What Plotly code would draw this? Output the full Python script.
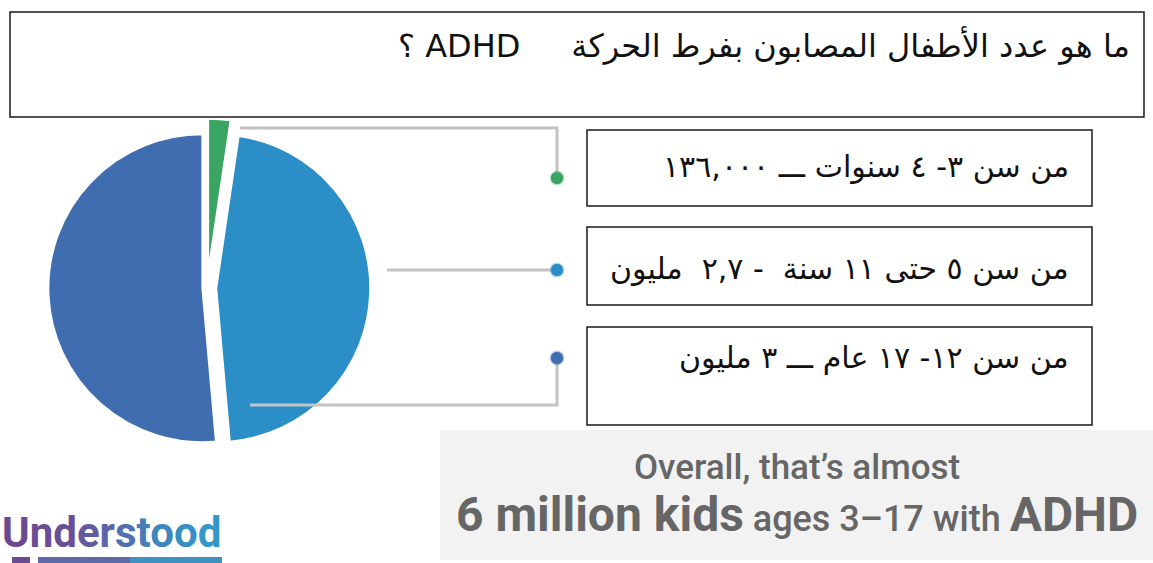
import plotly.graph_objects as go

# ---- data ----
age_groups = ["3-4", "5-11", "12-17"]
kids_count = [136000, 2700000, 3000000]
slice_colors = ["#3aa462", "#2b8ec6", "#3f6daf"]
slice_pull = [0.1, 0.06, 0.03]

title_text = "ما هو عدد الأطفال المصابون بفرط الحركة     ADHD ؟"
box_texts = [
    "من سن ٣- ٤ سنوات ـــ ١٣٦,٠٠٠",
    "من سن ٥ حتى ١١ سنة  - ٢,٧  مليون",
    "من سن ١٢- ١٧ عام ـــ ٣ مليون",
]

W, H = 1153, 563
RLE, PDF = "\u202b", "\u202c"

fig = go.Figure()

# pie (pixel geometry -> paper domain)
pcx, pcy, pr = 207, 288, 154
maxpull = max(slice_pull)
half = pr * (1 + maxpull)
fig.add_trace(go.Pie(
    labels=age_groups, values=kids_count, sort=False, direction="clockwise",
    rotation=0, pull=slice_pull, textinfo="none", hoverinfo="label+value",
    marker=dict(colors=slice_colors, line=dict(color="white", width=2)),
    domain=dict(x=[(pcx - half) / W, (pcx + half) / W],
                y=[1 - (pcy + half) / H, 1 - (pcy - half) / H]),
    showlegend=False,
))

# leader-line end dots (cartesian trace; also defines the pixel-space axes)
dot_x = [557, 557, 557]
dot_y = [178, 270, 358]
fig.add_trace(go.Scatter(
    x=dot_x, y=dot_y, mode="markers", showlegend=False, hoverinfo="skip",
    marker=dict(size=12, color=slice_colors),
))

shapes = []
line_col = "#c3c3c3"
# leader lines
shapes += [
    dict(type="path", path="M 240 128 L 557 128 L 557 178", line=dict(color=line_col, width=3)),
    dict(type="line", x0=387, y0=270, x1=557, y1=270, line=dict(color=line_col, width=3)),
    dict(type="path", path="M 250 405 L 557 405 L 557 358", line=dict(color=line_col, width=3)),
]
halo = ["rgba(58,164,98,0.35)", "rgba(43,142,198,0.35)", "rgba(63,109,175,0.35)"]
for xx, yy, c, hc in zip(dot_x, dot_y, slice_colors, halo):
    shapes.append(dict(type="circle", x0=xx - 6, x1=xx + 6, y0=yy - 6, y1=yy + 6,
                       fillcolor=c, line=dict(color=hc, width=3)))
# title box (covers the pulled green slice)
shapes.append(dict(type="rect", x0=10, y0=12, x1=1144, y1=117, layer="above",
                   fillcolor="white", line=dict(color="#1a1a1a", width=1.5)))
# gray summary box
shapes.append(dict(type="rect", x0=440, y0=430, x1=1153, y1=560, layer="below",
                   fillcolor="#f2f2f2", line=dict(width=0)))
# label boxes
for (y0, y1) in [(130, 206), (227, 305), (327, 425)]:
    shapes.append(dict(type="rect", x0=587, y0=y0, x1=1092, y1=y1, layer="below",
                       fillcolor="white", line=dict(color="#1a1a1a", width=1.5)))
# logo underline
shapes.append(dict(type="rect", x0=12, y0=557, x1=30, y1=563, fillcolor="#6a4c93", line=dict(width=0)))
shapes.append(dict(type="rect", x0=38, y0=557, x1=130, y1=563, fillcolor="#5d6aa6", line=dict(width=0)))
shapes.append(dict(type="rect", x0=130, y0=557, x1=222, y1=563, fillcolor="#3f92c0", line=dict(width=0)))

ar_font = "DejaVu Sans, Noto Sans, sans-serif"
annotations = [
    dict(x=1132, y=45, text=RLE + title_text + PDF, xanchor="right", yanchor="middle",
         showarrow=False, font=dict(family=ar_font, size=32, color="#111")),
]
for t, yy in zip(box_texts, [166, 268, 357]):
    annotations.append(dict(x=1071, y=yy, text=RLE + t + PDF, xanchor="right", yanchor="middle",
                            showarrow=False, font=dict(family=ar_font, size=30, color="#111")))

gray_txt = "#666666"
annotations.append(dict(x=797, y=467, text="Overall, that’s almost", showarrow=False,
                        xanchor="center", yanchor="middle",
                        font=dict(family="Roboto, Open Sans, sans-serif", size=35, color=gray_txt, weight=500)))
annotations.append(dict(
    x=797, y=514, showarrow=False, xanchor="center", yanchor="middle",
    text="<b>6 million kids</b><span style='font-size:36px'> ages 3–17 with </span><b>ADHD</b>",
    font=dict(family="Roboto, Open Sans, sans-serif", size=48, color=gray_txt, weight=500)))

logo_letters = "Understood"
logo_cols = ["#6b4a92", "#6a4d95", "#684f98", "#625a9f", "#5a66a8",
             "#5071af", "#477cb6", "#3f86bc", "#3890c2", "#3398c8"]
logo_html = "".join(f"<span style='color:{c}'>{ch}</span>" for ch, c in zip(logo_letters, logo_cols))
annotations.append(dict(x=0, y=532, text="<b>" + logo_html + "</b>", showarrow=False,
                        xanchor="left", yanchor="middle",
                        font=dict(family="Roboto, Lato, sans-serif", size=42)))

fig.update_layout(
    width=W, height=H, margin=dict(l=0, r=0, t=0, b=0),
    paper_bgcolor="white", plot_bgcolor="rgba(0,0,0,0)",
    xaxis=dict(range=[0, W], visible=False, fixedrange=True),
    yaxis=dict(range=[H, 0], visible=False, fixedrange=True),
    shapes=shapes, annotations=annotations,
)

fig.write_html("out.html", config={"displayModeBar": False},
               post_script="document.body.style.margin='0';document.body.style.overflow='hidden';")
